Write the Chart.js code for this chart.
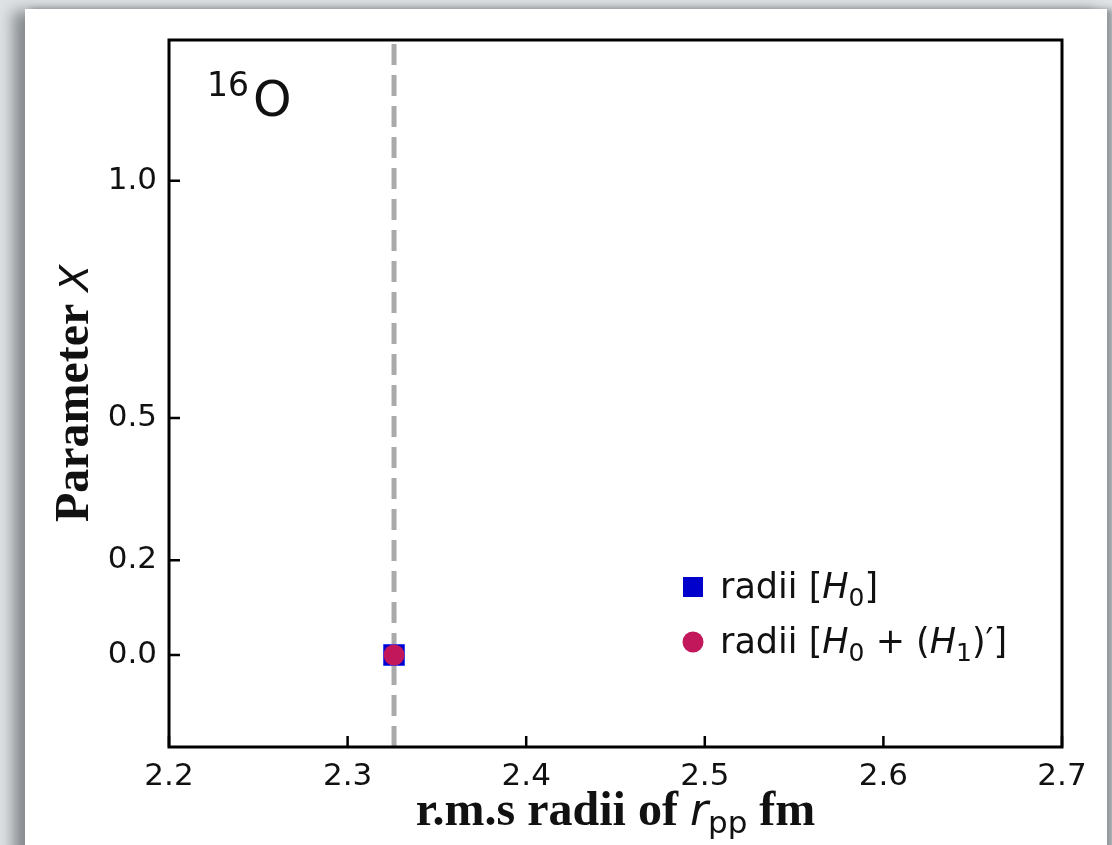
<!DOCTYPE html>
<html>
<head>
<meta charset="utf-8">
<script src="https://cdn.jsdelivr.net/npm/chart.js@4.4.1/dist/chart.umd.min.js"></script>
<style>
html, body { margin: 0; padding: 0; width: 1112px; height: 845px; overflow: hidden; background: #dfe3e6; }
#card { position: absolute; left: 25px; top: 9px; width: 1082px; height: 900px; background: #fff;
        box-shadow: -12px 2px 14px rgba(60,65,70,0.55), 6px 0 6px rgba(60,65,70,0.45); }
#wrap { position: absolute; left: 0; top: 0; width: 1112px; height: 845px; }
</style>
</head>
<body>
<div id="card"></div>
<div id="wrap"><canvas id="chart" width="1112" height="845"></canvas></div>
<script>
// data
var refRadius = [2.326];          // dashed reference line (r_pp)
var rppH0 = [2.326];
var paramH0 = [0.0];
var rppH01 = [2.326];
var paramH01 = [0.0];
var xTicks = [2.2, 2.3, 2.4, 2.5, 2.6, 2.7];
var yTicks = [0.0, 0.2, 0.5, 1.0];
var xRange = [2.2, 2.7];
var yRange = [-0.194, 1.297];

var sq = rppH0.map(function (v, i) { return { x: v, y: paramH0[i] }; });
var ci = rppH01.map(function (v, i) { return { x: v, y: paramH01[i] }; });
var dash = [{ x: refRadius[0], y: yRange[0] }, { x: refRadius[0], y: yRange[1] }];

var ink = '#111';
var sans = '"DejaVu Sans"';
var serif = '"Liberation Serif"';

function drawRich(ctx, x, y, parts) {
    var cx = x;
    parts.forEach(function (p) {
        ctx.font = p.font;
        ctx.fillText(p.t, cx, y + (p.dy || 0));
        cx += ctx.measureText(p.t).width;
    });
    return cx - x;
}
function richWidth(ctx, parts) {
    var w = 0;
    parts.forEach(function (p) { ctx.font = p.font; w += ctx.measureText(p.t).width; });
    return w;
}

var decor = {
    id: 'decor',
    afterDraw: function (chart) {
        var ctx = chart.ctx, a = chart.chartArea;
        var xs = chart.scales.x, ys = chart.scales.y;
        ctx.save();
        // frame
        ctx.strokeStyle = '#000';
        ctx.lineWidth = 3;
        ctx.strokeRect(a.left, a.top, a.right - a.left, a.bottom - a.top);
        // inward ticks
        ctx.lineWidth = 2.5;
        ctx.beginPath();
        xTicks.forEach(function (v) {
            var px = xs.getPixelForValue(v);
            ctx.moveTo(px, a.bottom);
            ctx.lineTo(px, a.bottom - 11);
        });
        yTicks.forEach(function (v) {
            var py = ys.getPixelForValue(v);
            ctx.moveTo(a.left, py);
            ctx.lineTo(a.left + 11, py);
        });
        ctx.stroke();

        ctx.fillStyle = ink;
        ctx.textBaseline = 'alphabetic';
        ctx.textAlign = 'left';

        // nucleus label
        drawRich(ctx, a.left + 38, a.top + 56, [
            { t: '16', font: '33px ' + sans },
        ]);
        drawRich(ctx, a.left + 84, a.top + 76, [
            { t: 'O', font: '49px ' + sans }
        ]);

        // legend
        var lx = a.left + 524, ly = a.top + 547;
        ctx.fillStyle = '#0000cc';
        ctx.fillRect(lx - 10, ly - 10, 20, 20);
        ctx.fillStyle = '#c2185b';
        ctx.beginPath();
        ctx.arc(lx, ly + 55, 10.5, 0, Math.PI * 2);
        ctx.fill();
        ctx.fillStyle = ink;
        var lf = '35px ' + sans, li = 'oblique 35px ' + sans, ls = '25px ' + sans;
        drawRich(ctx, lx + 27, ly + 11, [
            { t: 'radii [', font: lf }, { t: 'H', font: li }, { t: '0', font: ls, dy: 8 }, { t: ']', font: lf }
        ]);
        drawRich(ctx, lx + 27, ly + 66, [
            { t: 'radii [', font: lf }, { t: 'H', font: li }, { t: '0', font: ls, dy: 8 },
            { t: ' + (', font: lf }, { t: 'H', font: li }, { t: '1', font: ls, dy: 8 },
            { t: ')', font: lf }, { t: '\u2032', font: lf }, { t: ']', font: lf }
        ]);

        // x title
        var xt = [
            { t: 'r.m.s radii of ', font: 'bold 48px ' + serif },
            { t: 'r', font: 'oblique 44px ' + sans },
            { t: 'pp', font: '31px ' + sans, dy: 8 },
            { t: ' fm', font: 'bold 48px ' + serif }
        ];
        var xw = richWidth(ctx, xt);
        drawRich(ctx, (a.left + a.right) / 2 - xw / 2, 825, xt);

        // y title
        var yt = [
            { t: 'Parameter ', font: 'bold 48px ' + serif },
            { t: 'X', font: 'oblique 39px ' + sans }
        ];
        var yw = richWidth(ctx, yt);
        ctx.translate(88, (a.top + a.bottom) / 2);
        ctx.rotate(-Math.PI / 2);
        drawRich(ctx, -yw / 2, 0, yt);
        ctx.restore();
    }
};

new Chart(document.getElementById('chart').getContext('2d'), {
    data: {
        datasets: [
            {
                type: 'scatter', label: 'radii [H0 + (H1)\']', data: ci, order: 1,
                pointStyle: 'circle', pointRadius: 10.5, backgroundColor: '#c2185b', borderWidth: 0
            },
            {
                type: 'scatter', label: 'radii [H0]', data: sq, order: 2,
                pointStyle: 'rect', pointRadius: 14.8, backgroundColor: '#0000cc', borderColor: '#3344ee', borderWidth: 1
            },
            {
                type: 'line', label: 'ref', data: dash, order: 3,
                borderColor: '#aaaaaa', borderWidth: 5, borderDash: [21, 10], pointRadius: 0, fill: false
            }
        ]
    },
    options: {
        responsive: false,
        animation: false,
        devicePixelRatio: 1,
        layout: { padding: { top: 40, right: 50, left: 0, bottom: 0 } },
        plugins: { legend: { display: false }, tooltip: { enabled: false } },
        scales: {
            x: {
                type: 'linear', min: xRange[0], max: xRange[1],
                grid: { display: false, drawTicks: false }, border: { display: false },
                afterBuildTicks: function (s) { s.ticks = xTicks.map(function (v) { return { value: v }; }); },
                afterFit: function (s) { s.height = 98; },
                ticks: {
                    color: ink, padding: 11, maxRotation: 0, autoSkip: false,
                    font: { family: 'DejaVu Sans', size: 31 },
                    callback: function (v) { return v.toFixed(1); }
                }
            },
            y: {
                type: 'linear', min: yRange[0], max: yRange[1],
                grid: { display: false, drawTicks: false }, border: { display: false },
                afterBuildTicks: function (s) { s.ticks = yTicks.map(function (v) { return { value: v }; }); },
                afterFit: function (s) { s.width = 169; },
                ticks: {
                    color: ink, padding: 12, autoSkip: false,
                    font: { family: 'DejaVu Sans', size: 31 },
                    callback: function (v) { return v.toFixed(1); }
                }
            }
        }
    },
    plugins: [decor]
});
</script>
</body>
</html>
